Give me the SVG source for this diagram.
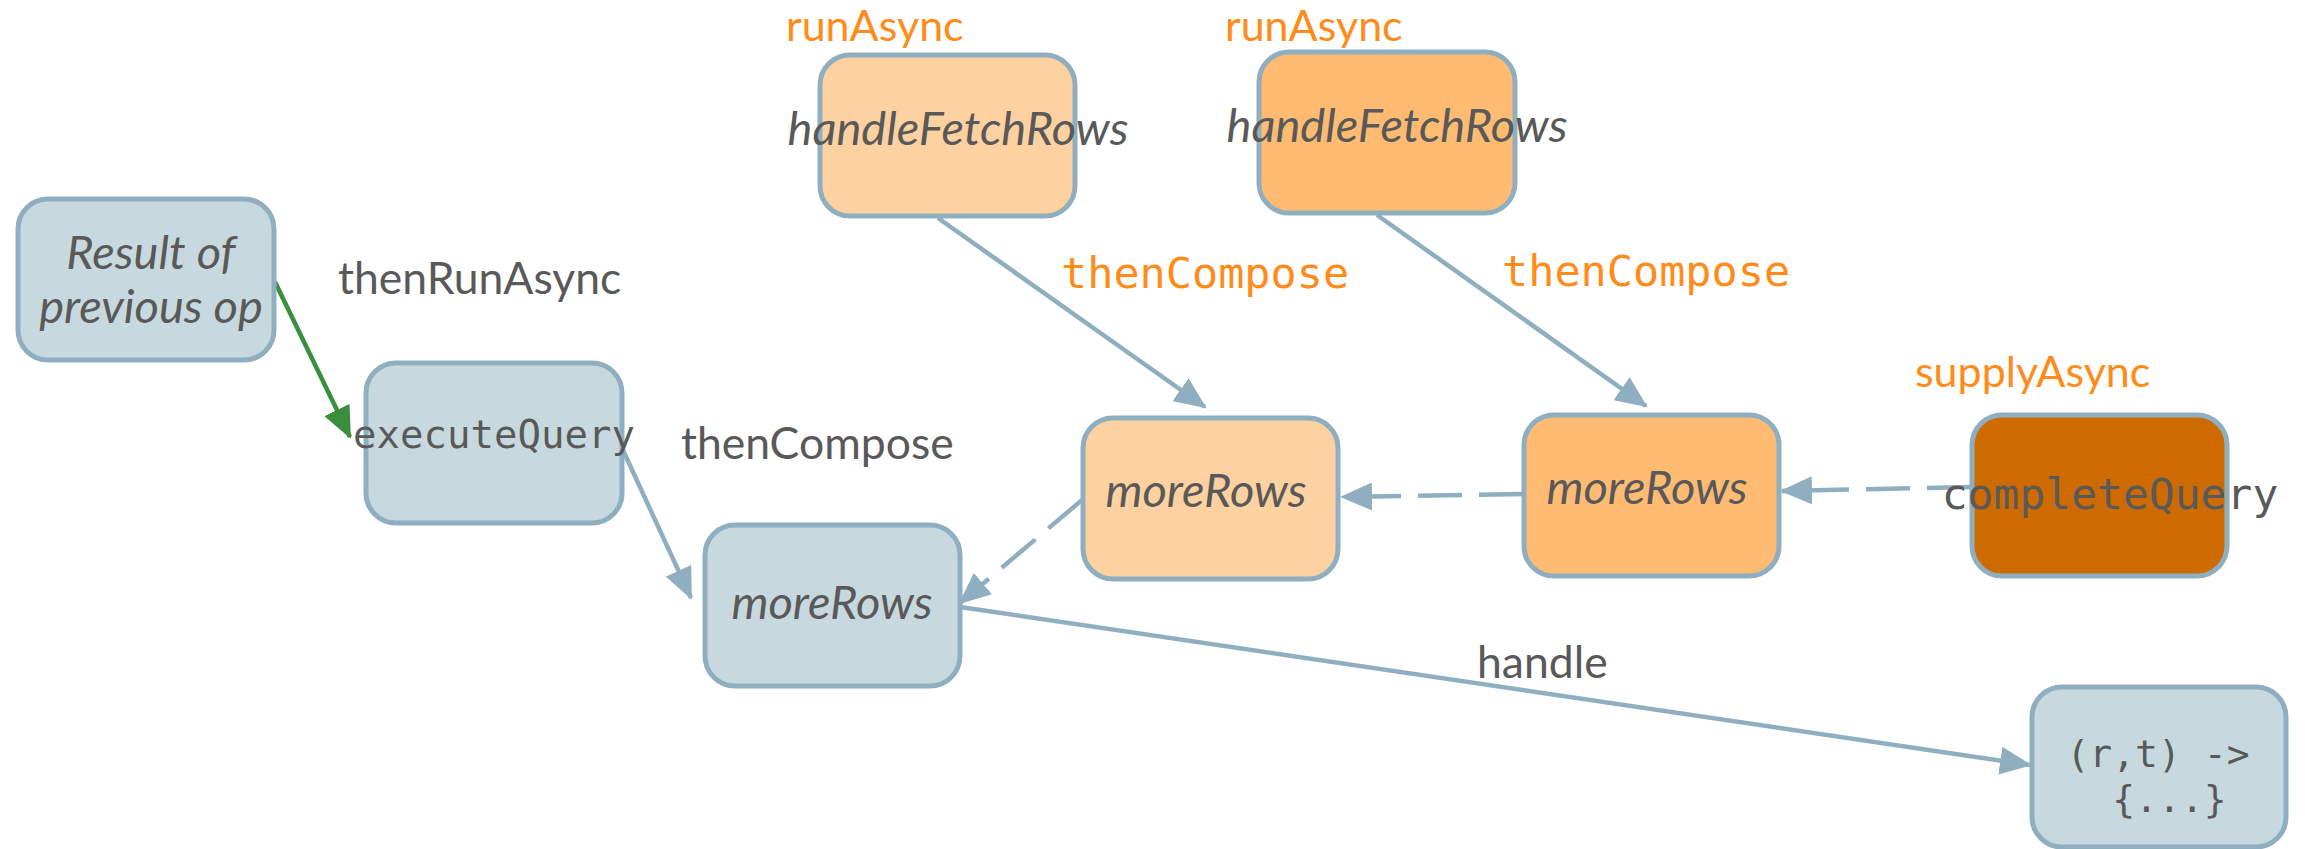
<svg xmlns="http://www.w3.org/2000/svg" width="2305" height="849" viewBox="0 0 2305 849">
<style>
.box{stroke:#8FAFC1;stroke-width:5}
.gray{fill:#C7D9DE}
.o1{fill:#FED1A0}
.o2{fill:#FFBB72}
.o3{fill:#CD6A00}
.it{font-family:Lato,"Open Sans",sans-serif;font-style:italic;font-size:47px;fill:#595959;text-anchor:middle}
.mono{font-family:"DejaVu Sans Mono",monospace;fill:#595959;text-anchor:middle}
.lbl{font-family:Lato,"Open Sans",sans-serif;font-size:44.5px;fill:#595959}
.olbl{font-family:Lato,"Open Sans",sans-serif;font-size:43px;fill:#FF8C1A}
.omono{font-family:"DejaVu Sans Mono",monospace;font-size:43.5px;fill:#FF8C1A}
.ln{fill:none;stroke:#8FAFC1;stroke-width:4.5}
.dash{stroke-dasharray:44 17}
</style>
<defs>
<marker id="ab" markerUnits="userSpaceOnUse" markerWidth="32" markerHeight="28" refX="30" refY="14" orient="auto" viewBox="0 0 32 28">
<path d="M0,0 L32,14 L0,28 z" fill="#8FAFC1"/>
</marker>
<marker id="ag" markerUnits="userSpaceOnUse" markerWidth="32" markerHeight="28" refX="30" refY="14" orient="auto" viewBox="0 0 32 28">
<path d="M0,0 L32,14 L0,28 z" fill="#3A8F3E"/>
</marker>
</defs>

<g id="connectors">
<line x1="275" y1="282" x2="350" y2="437" stroke="#3A8F3E" stroke-width="4.5" marker-end="url(#ag)"/>
<line class="ln" x1="622" y1="448" x2="691" y2="598" marker-end="url(#ab)"/>
<line class="ln" x1="938" y1="218" x2="1205" y2="407" marker-end="url(#ab)"/>
<line class="ln" x1="1377" y1="215" x2="1646" y2="406" marker-end="url(#ab)"/>
<line class="ln dash" x1="1971" y1="487" x2="1782" y2="491" marker-end="url(#ab)"/>
<line class="ln dash" x1="1523" y1="494" x2="1342" y2="497" marker-end="url(#ab)"/>
<line class="ln dash" x1="1082" y1="500" x2="960" y2="603" marker-end="url(#ab)"/>
<line class="ln" x1="960" y1="607" x2="2030" y2="765" marker-end="url(#ab)"/>
<text class="lbl" x="338" y="294">thenRunAsync</text>
<text class="lbl" x="681" y="459">thenCompose</text>
<text class="lbl" x="1477" y="678">handle</text>
<text class="omono" x="1061" y="288">thenCompose</text>
<text class="omono" x="1502" y="286">thenCompose</text>
</g>

<g id="result">
<rect class="box gray" x="18" y="199" width="256" height="161" rx="30"/>
<text class="it" x="151" y="269" font-size="45">Result of</text>
<text class="it" x="151" y="323" font-size="45">previous op</text>
</g>

<g id="executeQuery">
<rect class="box gray" x="366" y="363" width="256" height="160" rx="30"/>
<text class="mono" x="494" y="448" font-size="39">executeQuery</text>
</g>

<g id="moreRows0">
<rect class="box gray" x="705" y="525" width="255" height="161" rx="30"/>
<text class="it" x="832" y="619">moreRows</text>
</g>

<g id="lambda">
<rect class="box gray" x="2032" y="687" width="254" height="160" rx="30"/>
<text class="mono" x="2158" y="767" font-size="38">(r,t) -&gt;</text>
<text class="mono" x="2158" y="812" font-size="38" xml:space="preserve"> {...}</text>
</g>

<g id="handleFetchRows1">
<rect class="box o1" x="820" y="55" width="255" height="161" rx="30"/>
<text class="olbl" x="786" y="41">runAsync</text>
<text class="it" x="958" y="145">handleFetchRows</text>
</g>

<g id="handleFetchRows2">
<rect class="box o2" x="1259" y="52" width="256" height="161" rx="30"/>
<text class="olbl" x="1225" y="41">runAsync</text>
<text class="it" x="1397" y="142">handleFetchRows</text>
</g>

<g id="moreRows1">
<rect class="box o1" x="1083" y="418" width="255" height="161" rx="30"/>
<text class="it" x="1206" y="507">moreRows</text>
</g>

<g id="moreRows2">
<rect class="box o2" x="1524" y="415" width="255" height="161" rx="30"/>
<text class="it" x="1647" y="504">moreRows</text>
</g>

<g id="completeQuery">
<rect class="box o3" x="1972" y="415" width="255" height="161" rx="30"/>
<text class="olbl" x="1915" y="387">supplyAsync</text>
<text class="mono" x="2110" y="509" font-size="43">completeQuery</text>
</g>
</svg>
